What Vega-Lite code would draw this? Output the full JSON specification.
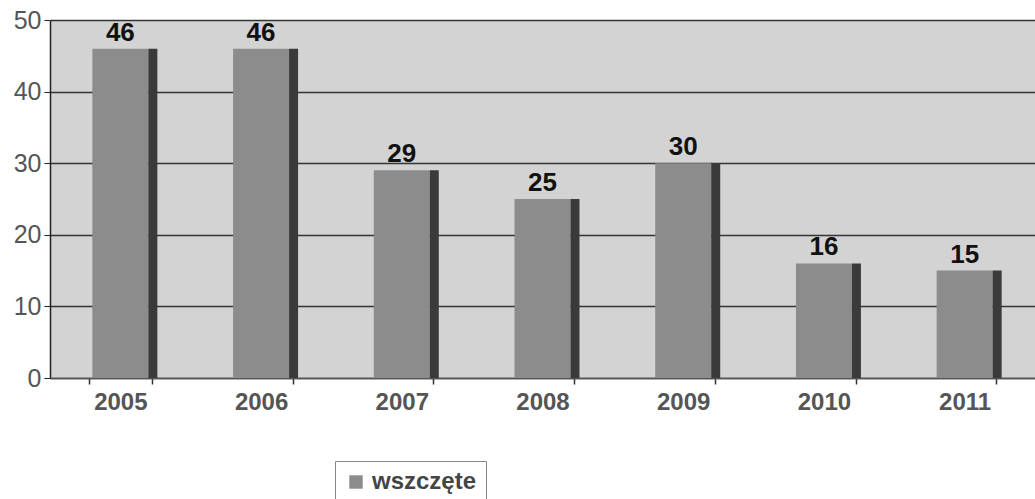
{
  "$schema": "https://vega.github.io/schema/vega-lite/v6.json",
  "autosize": {"type": "none"},
  "width": 985,
  "height": 358,
  "padding": {"left": 50, "top": 20, "right": 0, "bottom": 121},
  "background": "white",
  "config": {
    "view": {"fill": "#d3d3d3", "stroke": null},
    "font": "Liberation Sans"
  },
  "data": {
    "values": [
      {"year": "2005", "value": 46, "series": "wszczęte"},
      {"year": "2006", "value": 46, "series": "wszczęte"},
      {"year": "2007", "value": 29, "series": "wszczęte"},
      {"year": "2008", "value": 25, "series": "wszczęte"},
      {"year": "2009", "value": 30, "series": "wszczęte"},
      {"year": "2010", "value": 16, "series": "wszczęte"},
      {"year": "2011", "value": 15, "series": "wszczęte"}
    ]
  },
  "encoding": {
    "x": {
      "field": "year", "type": "nominal",
      "scale": {"paddingInner": 0.55, "paddingOuter": 0.275},
      "axis": {
        "title": null, "labelAngle": 0, "labelFontSize": 24, "labelColor": "#555",
        "labelFont": "Liberation Sans", "labelFontWeight": "bold", "labelPadding": 6,
        "domainColor": "#555", "domainWidth": 1.5, "tickBand": "extent",
        "tickColor": "#333", "tickSize": 6, "tickWidth": 1.5
      }
    },
    "y": {
      "field": "value", "type": "quantitative",
      "scale": {"domain": [0, 50]},
      "axis": {
        "title": null, "values": [0, 10, 20, 30, 40, 50], "labelFontSize": 25,
        "labelColor": "#555", "labelPadding": 3, "domainColor": "#222", "domainWidth": 1.5,
        "tickColor": "#222", "tickSize": 6, "gridColor": "#222", "gridWidth": 1.5,
        "gridOpacity": 0.9
      }
    }
  },
  "layer": [
    {
      "mark": {"type": "bar", "width": 56, "color": "#8c8c8c"},
      "encoding": {
        "color": {
          "field": "series", "type": "nominal",
          "scale": {"range": ["#8c8c8c"]},
          "legend": {
            "title": null, "orient": "none", "legendX": 285, "legendY": 441,
            "labelFontSize": 24, "labelFontWeight": "bold", "labelColor": "#444", "symbolType": "square",
            "symbolSize": 180, "strokeColor": "#888", "padding": 9, "fillColor": "white",
            "symbolStrokeWidth": 0
          }
        }
      }
    },
    {
      "mark": {"type": "bar", "width": 9, "xOffset": 32.5, "color": "#3a3a3a"}
    },
    {
      "mark": {"type": "text", "dy": -16, "fontSize": 26, "fontWeight": "bold", "color": "#111"},
      "encoding": {"text": {"field": "value", "type": "quantitative"}}
    }
  ]
}
